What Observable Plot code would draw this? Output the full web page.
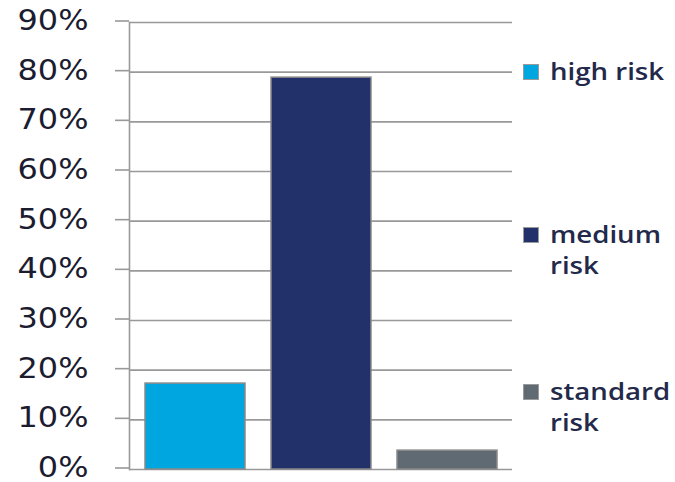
<!DOCTYPE html>
<html>
<head>
<meta charset="utf-8">
<script src="https://cdn.jsdelivr.net/npm/d3@7"></script>
<script src="https://cdn.jsdelivr.net/npm/@observablehq/plot@0.6"></script>
<style>
  html, body { margin: 0; padding: 0; background: #fff; }
  #wrap { position: relative; width: 675px; height: 482px; overflow: hidden; }
  #legend { position: absolute; left: 0; top: 0; font-family: "Open Sans", sans-serif; font-weight: 600; font-size: 23px; color: #22294a; }
  .sw { position: absolute; left: 523px; width: 14px; height: 14px; border: 1px solid #9a9a9a; }
  .lab { position: absolute; left: 550px; line-height: 31px; white-space: nowrap; transform: scaleX(1.2); transform-origin: left center; }
</style>
</head>
<body>
<div id="wrap"><div id="chart"></div><div id="legend"></div></div>
<script>
const categories = ["high risk", "medium risk", "standard risk"];
const values = [0.173, 0.789, 0.038];
const colors = ["#00a6e0", "#22316a", "#5f6a72"];
const yTicks = [0, 0.1, 0.2, 0.3, 0.4, 0.5, 0.6, 0.7, 0.8, 0.9];
const legendLines = [["high risk"], ["medium", "risk"], ["standard", "risk"]];

const data = categories.map((c, i) => ({category: c, value: values[i]}));

const chart = Plot.plot({
  width: 675,
  height: 482,
  marginLeft: 129,
  marginRight: 163,
  marginTop: 22,
  marginBottom: 13,
  style: {fontFamily: "DejaVu Sans, sans-serif", background: "#fff"},
  x: {domain: categories, paddingInner: 0.21, paddingOuter: 0.12, axis: null},
  y: {domain: [0, 0.9]},
  color: {domain: categories, range: colors},
  marks: [
    Plot.gridY(yTicks, {stroke: "#999", strokeOpacity: 1, strokeWidth: 1.6}),
    Plot.axisY(yTicks, {tickFormat: d3.format(".0%"), tickSize: 14, tickPadding: 27, stroke: "#999", strokeOpacity: 1, strokeWidth: 1.6, fontSize: 28, dy: -1.5, fill: "#1c1c30", label: null}),
    Plot.frame({anchor: "left", stroke: "#999", strokeWidth: 1.6}),
    Plot.barY(data, {x: "category", y: "value", fill: "category", stroke: "#8a8a8a", strokeWidth: 1.5})
  ]
});
document.getElementById("chart").appendChild(chart);

// widen tick labels horizontally (reference glyphs are stretched)
d3.select(chart).selectAll('[aria-label="y-axis tick label"] text').each(function() {
  const t = this.getAttribute("transform") || "";
  this.setAttribute("transform", t + " scale(1.14,1)");
});

// Legend
const legend = document.getElementById("legend");
const baselines = [80, 243, 400];
categories.forEach((c, i) => {
  const sw = document.createElement("div");
  sw.className = "sw";
  sw.style.background = colors[i];
  sw.style.top = (baselines[i] - 16) + "px";
  legend.appendChild(sw);
  const lab = document.createElement("div");
  lab.className = "lab";
  lab.style.top = (baselines[i] - 24) + "px";
  lab.innerHTML = legendLines[i].join("<br>");
  legend.appendChild(lab);
});
</script>
</body>
</html>
